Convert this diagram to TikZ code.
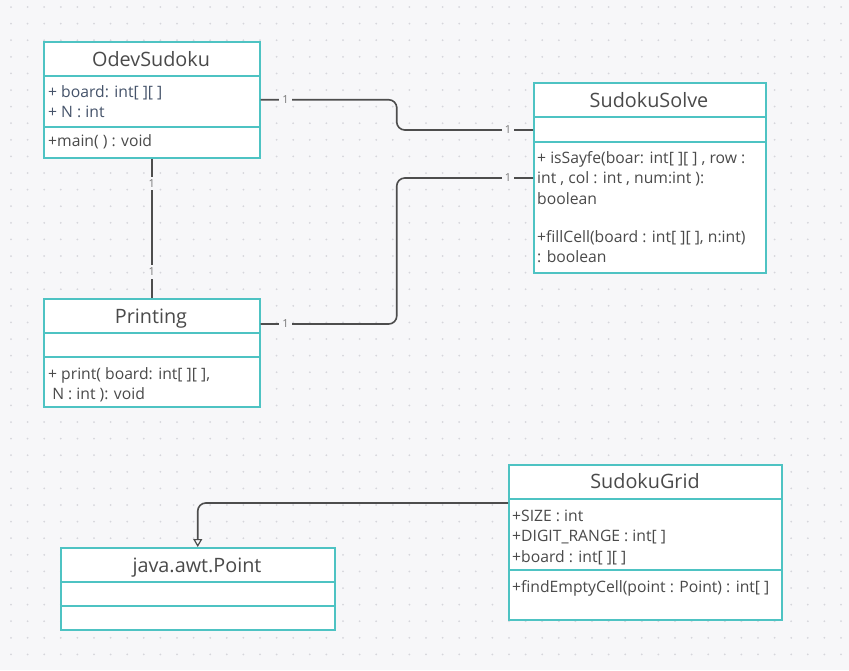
\documentclass[tikz,border=0pt]{standalone}
\usepackage{fontspec}
\setmainfont{Open Sans}
\usetikzlibrary{arrows.meta,calc}
\definecolor{bg}{HTML}{F7F7F9}
\definecolor{dotc}{HTML}{D6D6DC}
\definecolor{teal1}{HTML}{4EC3C3}
\definecolor{txt}{HTML}{4A4A4A}
\definecolor{txtb}{HTML}{45536A}
\definecolor{wirec}{HTML}{4D4D4D}
\definecolor{multc}{HTML}{777777}
\tikzset{
 cls/.style={draw=teal1, line width=1.5pt, fill=white, anchor=north west, inner sep=0pt},
 div/.style={draw=teal1, line width=1.5pt},
 ttl/.style={anchor=base, font=\fontsize{19.8}{20}\selectfont, text=txt, inner sep=0pt},
 mem/.style={anchor=base west, font=\fontsize{15.7}{16}\selectfont, text=txt, inner sep=0pt},
 memb/.style={mem, text=txtb},
 wire/.style={draw=wirec, line width=1.6pt, rounded corners=8pt},
 mult/.style={font=\fontsize{11}{11}\selectfont, text=multc, fill=bg, inner sep=3pt},
}
\begin{document}
\begin{tikzpicture}[x=1pt,y=-1pt]
\fill[bg] (0,0) rectangle (849,670);
\useasboundingbox (0,0) rectangle (849,670);
\foreach \i in {0,...,50}{\foreach \j in {0,...,39}{\fill[dotc] (11+16.6*\i, 7+16.6*\j) circle (1pt);}}

% OdevSudoku
\node[cls, minimum width=216pt, minimum height=116pt] (odev) at (43,41) {};
\draw[div] ($(odev.north west)+(0,35)$) -- ($(odev.north east)+(0,35)$);
\draw[div] ($(odev.north west)+(0,86)$) -- ($(odev.north east)+(0,86)$);
\node[ttl] (odevT) at (151,66) {OdevSudoku};
\node[memb] (odevA) at (48,97) {+ board: int[ ][ ]};
\node[memb] (odevB) at (48,117) {+ N : int};
\node[mem] (odevM) at (48,146) {+main( ) : void};

% SudokuSolve
\node[cls, minimum width=232pt, minimum height=190pt] (solve) at (533,82) {};
\draw[div] ($(solve.north west)+(0,35)$) -- ($(solve.north east)+(0,35)$);
\draw[div] ($(solve.north west)+(0,60)$) -- ($(solve.north east)+(0,60)$);
\node[ttl] (solveT) at (649,107) {SudokuSolve};
\node[mem] (solveA) at (537,163) {+ isSayfe(boar: int[ ][ ] , row :};
\node[mem] (solveB) at (537,183) {int , col : int , num:int ):};
\node[mem] (solveC) at (537,204) {boolean};
\node[mem] (solveD) at (537,242) {+fillCell(board : int[ ][ ], n:int)};
\node[mem] (solveE) at (537,262) {: boolean};

% Printing
\node[cls, minimum width=216pt, minimum height=108pt] (print) at (43,298) {};
\draw[div] ($(print.north west)+(0,35)$) -- ($(print.north east)+(0,35)$);
\draw[div] ($(print.north west)+(0,59)$) -- ($(print.north east)+(0,59)$);
\node[ttl] (printT) at (151,323) {Printing};
\node[mem] (printA) at (48,379) {+ print( board: int[ ][ ],};
\node[mem] (printB) at (48,399) {\ N : int ): void};

% SudokuGrid
\node[cls, minimum width=273pt, minimum height=155pt] (grid) at (508,464) {};
\draw[div] ($(grid.north west)+(0,35)$) -- ($(grid.north east)+(0,35)$);
\draw[div] ($(grid.north west)+(0,106)$) -- ($(grid.north east)+(0,106)$);
\node[ttl] (gridT) at (645,488) {SudokuGrid};
\node[mem] (gridA) at (512,521) {+SIZE : int};
\node[mem] (gridB) at (512,541) {+DIGIT\_RANGE : int[ ]};
\node[mem] (gridC) at (512,562) {+board : int[ ][ ]};
\node[mem] (gridD) at (512,592) {+findEmptyCell(point : Point) : int[ ]};

% java.awt.Point
\node[cls, minimum width=274pt, minimum height=82pt] (point) at (60,547) {};
\draw[div] ($(point.north west)+(0,35)$) -- ($(point.north east)+(0,35)$);
\draw[div] ($(point.north west)+(0,59)$) -- ($(point.north east)+(0,59)$);
\node[ttl] (pointT) at (197,572) {java.awt.Point};

% connectors
\coordinate (s1) at ($(solve.north west)+(0,48)$);
\coordinate (s2) at ($(solve.north west)+(0,96)$);
\coordinate (p1) at ($(print.north east)+(0,26)$);
\coordinate (g1) at ($(grid.north west)+(0,39)$);
\draw[wire] (odev.east) -| ($(odev.east)!0.5!(s1)$) |- (s1);
\draw[wire] (p1) -| ($(p1)!0.5!(s2)$) |- (s2);
\draw[wire] (odev.south) -- (print.north);
\draw[wire, -{Triangle[open, width=9pt, length=8pt, line width=1.2pt]}] (g1) -| (point.north);

% multiplicities
\node[mult] (m1) at ($(odev.east)+(25,0)$) {1};
\node[mult] (m2) at ($(s1)+(-25,0)$) {1};
\node[mult] (m3) at ($(p1)+(25,0)$) {1};
\node[mult] (m4) at ($(s2)+(-25,0)$) {1};
\node[mult] (m5) at ($(odev.south)+(0,25)$) {1};
\node[mult] (m6) at ($(print.north)+(0,-26)$) {1};
\end{tikzpicture}
\end{document}
